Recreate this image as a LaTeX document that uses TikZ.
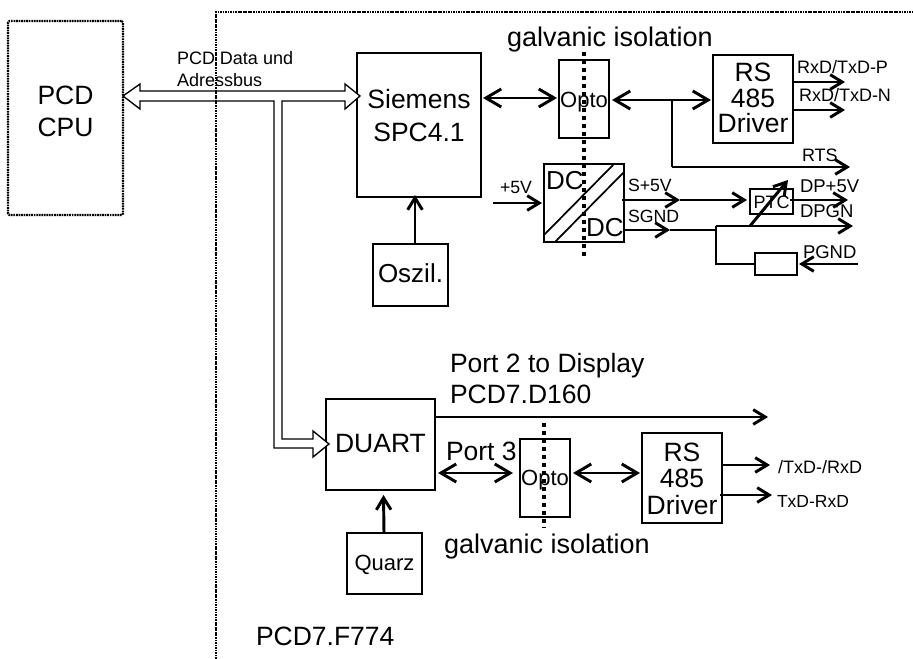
\documentclass[tikz,border=0pt]{standalone}
\usepackage{fontspec}
\setmainfont{Liberation Sans}
\usetikzlibrary{arrows.meta,calc}
\tikzset{
  boxn/.style={draw=black,line width=1.05pt,inner sep=0pt,outer sep=0pt,fill=none},
  lbl/.style={anchor=base west,inner sep=0pt,outer sep=0pt},
  outl/.style={draw=black,line width=1.6pt,dash pattern=on 1.3pt off 0.6pt},
  iso/.style={draw=black,line width=2.3pt,dash pattern=on 3pt off 3pt},
  bus/.style={draw=black,line width=1pt,fill=white,line join=miter},
  thin line/.style={draw=black,line width=1.3pt},
  larr/.style={draw=black,line width=2.2pt,-{Straight Barb[length=9pt,width=11pt,line width=2.2pt]}},
  lbarr/.style={draw=black,line width=2.2pt,{Straight Barb[length=11.5pt,width=13.5pt,line width=2.2pt]}-{Straight Barb[length=11.5pt,width=13.5pt,line width=2.2pt]}},
  tbarr/.style={draw=black,line width=1.6pt,{Straight Barb[length=11.5pt,width=13.5pt,line width=2.2pt]}-{Straight Barb[length=11.5pt,width=13.5pt,line width=2.2pt]}},
  marr/.style={draw=black,line width=2.2pt,-{Straight Barb[length=9pt,width=11pt,line width=2.2pt]}},
  bxcur/.style={}
}
\newcommand\fpx[1]{\pgfmathsetlengthmacro\tmpf{#1*0.75}\fontsize{\tmpf}{\tmpf}\selectfont}
\newcommand\bx[9]{%
  \pgfmathsetlengthmacro\bw{(#4-#2)*.75}%
  \pgfmathsetlengthmacro\bh{(#5-#3)*.75}%
  \pgfmathsetlengthmacro\bs{#6*.75}%
  \pgfmathsetlengthmacro\bl{#7*.75}%
  \pgfmathsetlengthmacro\bb{#8*.75}%
  \node[boxn,bxcur,minimum width=\bw,minimum height=\bh] (#1) at ({(#2+#4)/2},{(#3+#5)/2})
    {\parbox[c][\bh][t]{\bw}{\centering\fontsize{\bs}{\bl}\selectfont\rule{0pt}{\bb}#9}};}
\newcommand\tl[5]{\node[lbl] (#1) at (#2,#3) {\fpx{#4}#5};}
\begin{document}
\begin{tikzpicture}[x=0.75pt,y=-0.75pt]
\useasboundingbox (0,0) rectangle (913,659);
% boxes
\tikzset{bxcur/.style={outl,rounded corners=1pt}}
\bx{cpu}{8}{21}{123}{215}{26.5}{32}{84}{PCD\\CPU}
\tikzset{bxcur/.style={}}
\bx{spc}{357}{53}{481}{197}{26.5}{33}{56}{Siemens\\SPC4.1}
\bx{osz}{373}{244}{448}{306}{26}{26}{38}{Oszil.}
\bx{opa}{559}{60}{609}{138}{22}{22}{48}{Opto}
\bx{rsa}{713}{55}{793}{143}{26.5}{25.5}{27}{RS\\485\\Driver}
\bx{dc}{544}{164}{624}{242}{26}{26}{0}{}
\bx{ptc}{750}{189}{793}{214}{18}{18}{20}{PTC}
\bx{res}{755}{253}{797}{275}{18}{18}{0}{}
\bx{duart}{326}{399}{435}{490}{26.5}{26.5}{53}{DUART}
\bx{opb}{520}{439}{570}{517}{22}{22}{46}{Opto}
\bx{rsb}{642}{433}{722}{523}{26.5}{26.5}{28}{RS\\485\\Driver}
\bx{qua}{347}{533}{422}{594}{22}{22}{37}{Quarz}
% bus
\coordinate (busL) at ([shift={(0,-22)}]cpu.east);
\coordinate (busR) at ([shift={(3,-29)}]spc.west);
\coordinate (busD) at ([shift={(3,-0.5)}]duart.west);
\draw[bus] (busL) -- ++(17,-12) -- ++(0,7) -- ($(busR)+(-15,-5)$) -- ++(0,-7) -- (busR)
  -- ++(-15,13) -- ++(0,-8) -- ($(busL)+(159,5)$) -- ($(busD)+(-47,-5)$) -- ++(31,0) -- ++(0,-8)
  -- (busD) -- ++(-16,13) -- ++(0,-9) -- ($(busD)+(-55,4)$) -- ($(busL)+(151,5)$) -- ($(busL)+(17,5)$)
  -- ++(0,8) -- cycle;
% frame of the module
\coordinate (frA) at (216,659);
\coordinate (frB) at (216,12);
\coordinate (frC) at (913,12);
\draw[outl] (frA) -- (frB) -- (frC);
% isolation lines
\coordinate (isoA) at (584,52);
\coordinate (isoB) at (584,256);
\coordinate (isoC) at (544,423);
\coordinate (isoD) at (544,528);
\draw[iso] (isoA) -- (isoB);
\draw[iso] (isoC) -- (isoD);
% DC diagonals
\draw[thin line] ($(dc.south west)+(0,-7)$) -- ($(dc.north east)+(-10,0)$);
\draw[thin line] ($(dc.south west)+(11,0)$) -- ($(dc.north east)+(0,8)$);
% upper arrows
\draw[lbarr] ([shift={(2,-27)}]spc.east) -- ([shift={(-2,-1)}]opa.west);
\draw[tbarr] ([shift={(3,1)}]opa.east) -- ([shift={(-2,1)}]rsa.west);
\coordinate (tap) at (672,100);
\coordinate (rtsC) at (672,167);
\coordinate (rtsE) at (850,167);
\draw[thin line] (tap) -- (rtsC);
\draw[larr] (rtsC) -- (rtsE);
\coordinate (rxpE) at (845,82);
\coordinate (rxnE) at (845,110);
\draw[larr] ([shift={(-1,-17)}]rsa.east) -- (rxpE);
\draw[larr] ([shift={(-1,11)}]rsa.east) -- (rxnE);
\draw[marr] ([shift={(4.5,0)}]osz.north) -- ([shift={(-4,-2)}]spc.south);
% +5V
\coordinate (vIn) at (493,203);
\draw[marr] (vIn) -- ([shift={(-2,0)}]dc.west);
% S+5V
\coordinate (sMid) at (680,200);
\draw[larr] ([shift={(-2,-3)}]dc.east) -- (sMid);
\draw[larr] (sMid) -- ([shift={(-3,-1.5)}]ptc.west);
% SGND
\coordinate (gMid) at (670,230);
\coordinate (gEnd) at (716,230);
\coordinate (gTop) at (716,226);
\coordinate (gOut) at (853,226);
\coordinate (gLow) at (716,264);
\draw[larr] ([shift={(0,27)}]dc.east) -- (gMid);
\draw[thin line] (gMid) -- (gEnd);
\draw[larr] (gTop) -- (gOut);
\draw[thin line] (gTop) -- (gLow) -- (res.west);
% PTC
\coordinate (ptcA) at (750,226);
\coordinate (ptcB) at (788,180);
\draw[larr] (ptcA) -- (ptcB);
\coordinate (dpE) at (848,200);
\draw[larr] ([shift={(-3,-1.5)}]ptc.east) -- (dpE);
% PGND
\coordinate (pgS) at (858,264);
\draw[larr] (pgS) -- ([shift={(2,0)}]res.east);
% lower
\coordinate (p2E) at (768,417);
\draw[larr] ([shift={(0,-27.5)}]duart.east) -- (p2E);
\draw[lbarr] ([shift={(3,28.5)}]duart.east) -- ([shift={(-7,-5)}]opb.west);
\draw[lbarr] ([shift={(3,-5)}]opb.east) -- ([shift={(-2,-5)}]rsb.west);
\coordinate (txaE) at (770,465);
\coordinate (txbE) at (772,495);
\draw[larr] ([shift={(0,-13)}]rsb.east) -- (txaE);
\draw[larr] ([shift={(-2,17)}]rsb.east) -- (txbE);
\draw[marr] ([shift={(-0.5,0)}]qua.north) -- ([shift={(3,5)}]duart.south);
% labels
\tl{tBusA}{177}{65}{18}{PCD Data und}
\tl{tBusB}{177}{87}{18}{Adressbus}
\tl{tIsoA}{507}{47}{27}{galvanic isolation}
\tl{tRxP}{797}{74}{18}{RxD/TxD-P}
\tl{tRxN}{799}{102}{18}{RxD/TxD-N}
\tl{tRts}{802}{162}{18}{RTS}
\tl{t5v}{500}{194}{17.7}{+5V}
\tl{tDCa}{546}{190}{26}{DC}
\tl{tDCb}{586}{237}{26}{DC}
\tl{tS5}{628}{192}{17.7}{S+5V}
\tl{tSG}{628}{223}{17.7}{SGND}
\tl{tDP}{800}{193}{18.5}{DP+5V}
\tl{tDG}{800}{218}{18.5}{DPGN}
\tl{tPG}{803}{258}{18.5}{PGND}
\tl{tP2}{450}{372}{26.5}{Port 2 to Display}
\tl{tD160}{450}{403}{26.5}{PCD7.D160}
\tl{tP3}{446}{460}{26.5}{Port 3}
\tl{tIsoB}{444}{553}{27}{galvanic isolation}
\tl{tTa}{778}{473}{18}{/TxD-/RxD}
\tl{tTb}{777}{507}{17.5}{TxD-RxD}
\tl{tF}{256}{645}{26.5}{PCD7.F774}
\end{tikzpicture}
\end{document}
